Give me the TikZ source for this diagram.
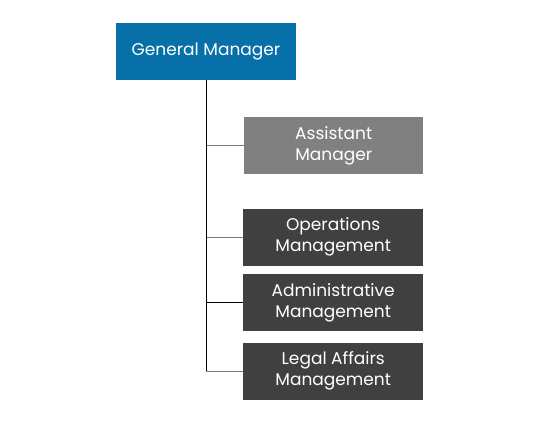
\documentclass[tikz,border=0pt]{standalone}
\usepackage{fontspec}
\setmainfont{Poppins}
\usepackage{tikz}
\usetikzlibrary{positioning}

\definecolor{gmblue}{HTML}{0870A8}
\definecolor{asstgray}{HTML}{808080}
\definecolor{deptgray}{HTML}{404040}
\definecolor{linkgray}{HTML}{7A7A7A}

\tikzset{
  unitbox/.style={draw=none, text=white, minimum width=180pt, minimum height=57pt,
    inner sep=0pt, align=center, font=\fontsize{17}{21}\selectfont},
  link/.style={line width=1pt}
}

\begin{document}
\begin{tikzpicture}
      \useasboundingbox (0,0) rectangle (550pt,-428pt);
      \node(GM) [unitbox, fill=gmblue] at (206pt,-51.5pt) {General Manager};
      \node(AM) [unitbox, fill=asstgray, minimum width=179pt, below right=37pt and 38pt of GM.south] {Assistant\\Manager};
      \node(OM) [unitbox, fill=deptgray, anchor=north west] at ([yshift=-34pt, xshift=-1pt]AM.south west) {Operations\\Management};
      \node(ADM) [unitbox, fill=deptgray, below=8pt of OM] {Administrative\\Management};
      \node(LAM) [unitbox, fill=deptgray, below=11pt of ADM] {Legal Affairs\\Management};

      \draw[link, linkgray](GM.south) |- (AM.west);
      \draw[link, linkgray](GM.south) |- (OM.west);
      \draw[link](GM.south) |- (ADM.west);
      \draw[link, linkgray](GM.south) |- (LAM.west);
      \draw[link](GM.south) -- (GM.south |- LAM.west);
    \end{tikzpicture}
\end{document}
